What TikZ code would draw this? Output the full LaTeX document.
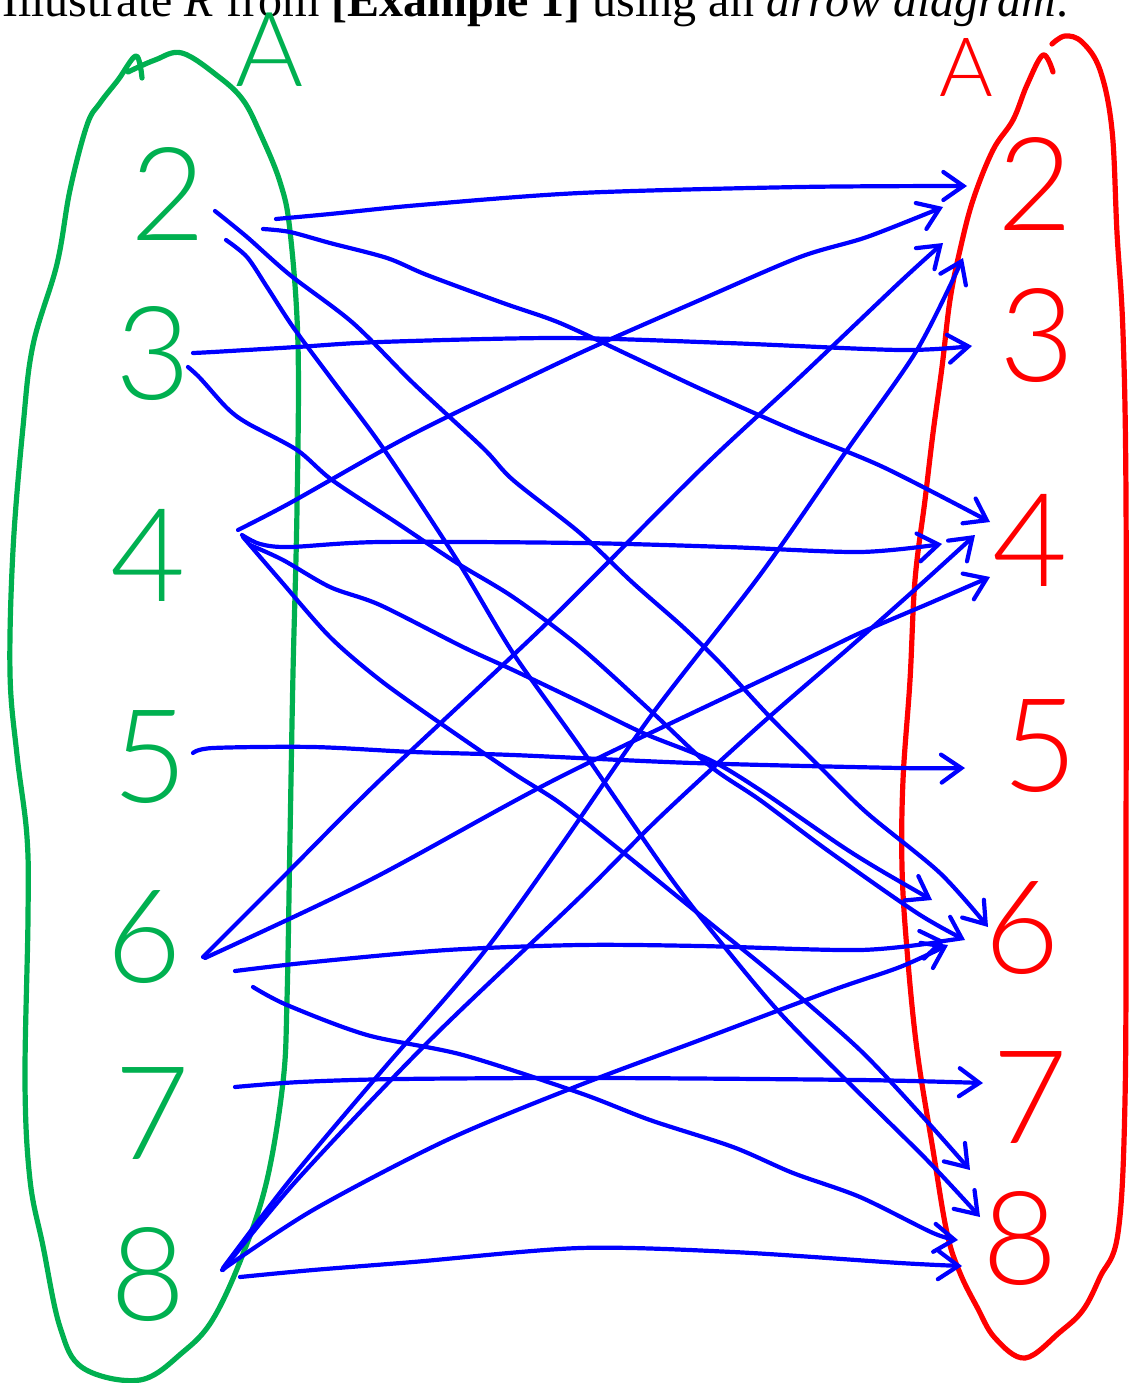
\documentclass[tikz,border=0pt]{standalone}
\usepackage{fontspec}
\setmainfont{Liberation Serif}
\IfFontExistsTF{Lato Light}{\newfontfamily\handfont{Lato Light}}{\newfontfamily\handfont{Liberation Sans}}
\usetikzlibrary{arrows.meta}
\definecolor{penblue}{RGB}{0,0,255}
\definecolor{pengreen}{RGB}{0,176,80}
\definecolor{penred}{RGB}{255,0,0}

\begin{document}
\begin{tikzpicture}[x=1pt, y=-1pt,
    pen/.style={line width=5.2pt, line cap=round, line join=round},
    arrowline/.style={penblue, line width=4.2pt, line cap=round, line join=round,
        -{Straight Barb[length=20pt, width=28pt, line cap=round]}},
    leftnum/.style={pengreen, inner sep=0pt, font=\handfont\fontsize{130}{130}\selectfont},
    rightnum/.style={penred, inner sep=0pt, font=\handfont\fontsize{130}{130}\selectfont}]

    \useasboundingbox (0,0) rectangle (1129,1383);

    % Heading (cut at the top)
    \node[anchor=base west, inner sep=0pt, font=\fontsize{48}{58}\selectfont] (title) at (2,17)
        {Illustrate \textit{R} from \textbf{[Example 1]} using an \textit{arrow diagram}.};

    % Left set A
    \draw[pengreen, pen] plot[smooth, tension=0.6] coordinates {(142,78) (136,56) (118,80) (100,103) (87,125)
        (70,190) (57,264) (33,345) (23,427) (13,550) (10,673) (17,755) (27,837) (28,918) (25,1082)
        (30,1180) (43,1246) (60,1327) (83,1368) (140,1380) (183,1352) (213,1319) (243,1254) (267,1180)
        (283,1082) (287,1000) (290,837) (293,673) (297,509) (298,345) (290,231) (280,182) (260,133)
        (243,100) (219,77) (182,53) (155,60) (128,72)};
    \node[pengreen, inner sep=0pt, font=\handfont\fontsize{104}{104}\selectfont] (leftA) at (270,50) {A};

    % Right set A
    \draw[penred, pen] plot[smooth, tension=0.6] coordinates {(1053,72) (1043,55) (1027,85) (1013,120)
        (993,150) (973,200) (960,250) (950,300) (942,367) (933,433) (925,500) (915,580) (910,680)
        (903,780) (902,867) (907,950) (917,1050) (933,1150) (947,1233) (960,1273) (977,1307)
        (995,1338) (1025,1358) (1060,1332) (1083,1310) (1100,1277) (1118,1233) (1125,1100)
        (1126,850) (1126,500) (1123,333) (1117,233) (1112,130) (1100,70) (1082,42) (1065,36) (1052,44)};
    \node[penred, inner sep=0pt, font=\handfont\fontsize{82}{82}\selectfont] (rightA) at (966,67) {A};

    % Elements
    \foreach \n/\x/\y in {2/168/194, 3/153/354, 4/148/555, 5/150/757, 6/144/937, 7/152/1113, 8/148/1274}
        \node[leftnum] (l\n) at (\x,\y) {\n};
    \foreach \n/\x/\y in {2/1035/184, 3/1037/336, 4/1030/540, 5/1040/746, 6/1022/928, 7/1030/1097, 8/1020/1238}
        \node[rightnum] (r\n) at (\x,\y) {\n};

    % Arrow ends
    \foreach \name/\x/\y in {s22/276/219, e22/967/186, s24/263/229, e24/990/522,
            s26/215/211, e26/988/927, s28/226/240, e28/980/1217,
            s33/193/353, e33/972/346, s36/188/367, e36/965/940,
            s42/238/530, e42/943/207, s44/242/535, e44/942/544,
            s46/250/545, e46/932/900, s48/243/537, e48/970/1170,
            s55/193/753, e55/965/768,
            s62/203/957, e62/943/243, s64/205/958, e64/990/577,
            s66/235/971, e66/945/941, s68/253/987, e68/958/1240,
            s77/235/1087, e77/983/1083,
            s83/223/1268, e83/963/258, s84/223/1270, e84/975/535,
            s86/222/1270, e86/948/945, s88/240/1277, e88/962/1266}
        \coordinate (\name) at (\x,\y);

    % Arrows from 2
    \draw[arrowline] plot[smooth] coordinates {(s22) (330,214) (420,205) (580,193) (800,187) (e22)};
    \draw[arrowline] plot[smooth] coordinates {(s24) (290,232) (330,243) (387,258) (427,275) (503,303)
        (560,323) (633,357) (703,390) (793,430) (883,467) (e24)};
    \draw[arrowline] plot[smooth] coordinates {(s26) (247,237) (290,275) (353,323) (413,383) (483,448)
        (513,480) (580,533) (633,583) (683,627) (720,663) (770,717) (820,767) (867,813) (940,873) (e26)};
    \draw[arrowline] plot[smooth] coordinates {(s28) (247,257) (267,287) (293,327) (330,377) (383,448)
        (457,560) (513,653) (580,747) (670,877) (727,950) (780,1013) (843,1077) (927,1160) (e28)};

    % Arrows from 3
    \draw[arrowline] plot[smooth] coordinates {(s33) (213,352) (297,347) (380,342) (560,338) (727,343)
        (900,350) (e33)};
    \draw[arrowline] plot[smooth] coordinates {(s36) (200,378) (227,408) (247,423) (297,450) (332,480)
        (397,523) (457,563) (513,597) (580,647) (653,713) (710,766) (760,800) (827,850) (917,913) (e36)};

    % Arrows from 4
    \draw[arrowline] plot[smooth] coordinates {(s42) (290,503) (387,448) (447,417) (580,353) (700,300)
        (800,257) (867,237) (e42)};
    \draw[arrowline] plot[smooth] coordinates {(s44) (260,544) (290,547) (380,542) (580,543) (727,547)
        (860,552) (e44)};
    \draw[arrowline] plot[smooth] coordinates {(s46) (283,560) (330,587) (380,605) (463,647) (513,670)
        (580,702) (643,733) (710,760) (760,790) (840,845) (880,870) (e46)};
    \draw[arrowline] plot[smooth] coordinates {(s48) (280,580) (330,637) (380,680) (440,723) (513,773)
        (560,803) (620,850) (710,923) (780,980) (860,1050) (923,1117) (e48)};

    % Arrow from 5
    \draw[arrowline] plot[smooth] coordinates {(s55) (213,748) (313,747) (413,752) (513,755) (693,763)
        (900,768) (e55)};

    % Arrows from 6
    \draw[arrowline] plot[smooth] coordinates {(s62) (280,880) (380,780) (547,623) (700,470) (800,377)
        (900,282) (e62)};
    \draw[arrowline] plot[smooth] coordinates {(s64) (370,880) (560,777) (800,662) (860,633) (930,603) (e64)};
    \draw[arrowline] plot[smooth] coordinates {(s66) (313,962) (447,950) (580,945) (700,946) (860,950) (e66)};
    \draw[arrowline] plot[smooth] coordinates {(s68) (287,1005) (367,1035) (463,1055) (580,1093)
        (650,1120) (733,1147) (793,1173) (860,1197) (933,1233) (e68)};

    % Arrow from 7
    \draw[arrowline] plot[smooth] coordinates {(s77) (300,1082) (400,1079) (600,1078) (860,1080) (e77)};

    % Arrows from 8
    \draw[arrowline] plot[smooth] coordinates {(s83) (290,1180) (380,1073) (480,957) (560,847) (653,713)
        (760,575) (847,450) (917,350) (e83)};
    \draw[arrowline] plot[smooth] coordinates {(s84) (297,1180) (430,1040) (580,897) (660,817) (760,725)
        (850,647) (920,585) (e84)};
    \draw[arrowline] plot[smooth] coordinates {(s86) (313,1210) (447,1140) (580,1085) (700,1040)
        (833,990) (900,967) (e86)};
    \draw[arrowline] plot[smooth] coordinates {(s88) (313,1270) (413,1262) (580,1248) (733,1252)
        (900,1263) (e88)};

\end{tikzpicture}
\end{document}
